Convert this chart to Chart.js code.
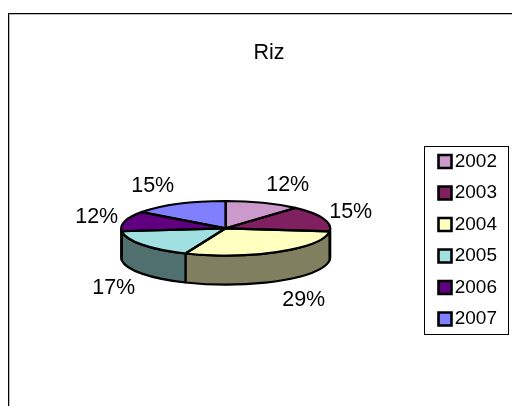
<!DOCTYPE html>
<html>
<head>
<meta charset="utf-8">
<style>html,body{margin:0;padding:0;background:#fff}canvas{display:block}</style>
<script src="https://cdn.jsdelivr.net/npm/chart.js@4"></script>
</head>
<body>
<canvas id="c" width="512" height="406"></canvas>
<script>
const titleText = 'Riz';
const categories = ['2002', '2003', '2004', '2005', '2006', '2007'];
const shares = [11.6, 15.2, 29.49, 17.0, 11.8, 14.91];
const sliceColors = ['#CC99CC', '#802060', '#FFFFC0', '#A0E0E0', '#600080', '#8080FF'];

const FONT = 'Liberation Sans, Arial, sans-serif';
const TILT = 27.3 / 104.5, DEPTH = 29, LINE = 2.2;
const labelOffsets = [[62, -43.5], [125, -16.5], [78, 71.5], [-112, 59.5], [-129, -11.5], [-73, -42.5]];

function wallColor(hex) {
  const n = parseInt(hex.slice(1), 16);
  return 'rgb(' + (n >> 16 & 255) / 2 + ',' + (n >> 8 & 255) / 2 + ',' + (n & 255) / 2 + ')';
}

const piePlugin = {
  id: 'pie3d',
  afterLayout(chart) {
    const lg = chart.legend, p = lg.options.labels.padding;
    lg.left = 438.5 - p; lg.right = 497; lg.top = 147 - p + 5; lg.bottom = 406;
    chart.titleBlock.left = 8; chart.titleBlock.right = 530;
  },
  beforeDraw(chart) {
    const ctx = chart.ctx;
    ctx.save();
    ctx.fillStyle = '#000'; ctx.fillRect(8, 13, 504, 1); ctx.fillRect(8, 13, 1, 393);
    ctx.fillStyle = '#bbb'; ctx.fillRect(9, 14, 503, 1); ctx.fillRect(9, 14, 1, 392);
    ctx.strokeStyle = '#000'; ctx.lineWidth = 1;
    ctx.strokeRect(424.5, 146.5, 84, 188);
    ctx.restore();
  },
  beforeDatasetsDraw(chart) {
    const ctx = chart.ctx, arcs = chart.getDatasetMeta(0).data;
    const { x, y, outerRadius: r } = arcs[0];
    ctx.save();
    ctx.lineWidth = LINE; ctx.strokeStyle = '#000'; ctx.lineJoin = 'round';
    arcs.forEach((a, i) => {
      const s = Math.max(a.startAngle, 0), e = Math.min(a.endAngle, Math.PI);
      if (e <= s) return;
      ctx.beginPath();
      ctx.ellipse(x, y, r, r * TILT, 0, s, e);
      ctx.ellipse(x, y + DEPTH, r, r * TILT, 0, e, s, true);
      ctx.closePath();
      ctx.fillStyle = wallColor(sliceColors[i]);
      ctx.fill(); ctx.stroke();
    });
    ctx.restore();
    ctx.save();
    ctx.translate(x, y); ctx.scale(1, TILT); ctx.translate(-x, -y);
  },
  afterDatasetsDraw(chart) {
    const ctx = chart.ctx, arcs = chart.getDatasetMeta(0).data;
    ctx.restore();
    const { x, y, outerRadius: r } = arcs[0];
    ctx.save();
    ctx.lineWidth = LINE; ctx.strokeStyle = '#000'; ctx.lineJoin = 'round';
    arcs.forEach(a => {
      ctx.beginPath();
      ctx.moveTo(x, y);
      ctx.ellipse(x, y, r, r * TILT, 0, a.startAngle, a.endAngle);
      ctx.closePath();
      ctx.stroke();
    });
    ctx.fillStyle = '#000';
    ctx.font = '21.5px ' + FONT;
    ctx.textAlign = 'center'; ctx.textBaseline = 'middle';
    const total = shares.reduce((t, v) => t + v, 0);
    arcs.forEach((a, i) => {
      ctx.fillText(Math.round(shares[i] / total * 100) + '%', x + labelOffsets[i][0], y + labelOffsets[i][1]);
    });
    ctx.restore();
  }
};

new Chart(document.getElementById('c'), {
  type: 'pie',
  data: {
    labels: categories,
    datasets: [{ data: shares, backgroundColor: sliceColors, borderWidth: 0 }]
  },
  plugins: [piePlugin],
  options: {
    responsive: false,
    animation: false,
    events: [],
    layout: { padding: { left: 121.2, right: 181.8, top: 40, bottom: 73.2 } },
    plugins: {
      tooltip: { enabled: false },
      title: {
        display: true, text: titleText, color: '#000',
        font: { family: FONT, size: 21.5, weight: 'normal' },
        padding: { top: 0, bottom: 58 }
      },
      legend: {
        position: 'chartArea', align: 'start',
        labels: {
          boxWidth: 13, boxHeight: 13, padding: 12.5, color: '#000',
          font: { family: FONT, size: 19 },
          generateLabels: () => categories.map((c, i) => ({
            text: c, fillStyle: sliceColors[i], strokeStyle: '#000', lineWidth: 2.6,
            textAlign: 'right', index: i, hidden: false
          }))
        }
      }
    }
  }
});
</script>
</body>
</html>
